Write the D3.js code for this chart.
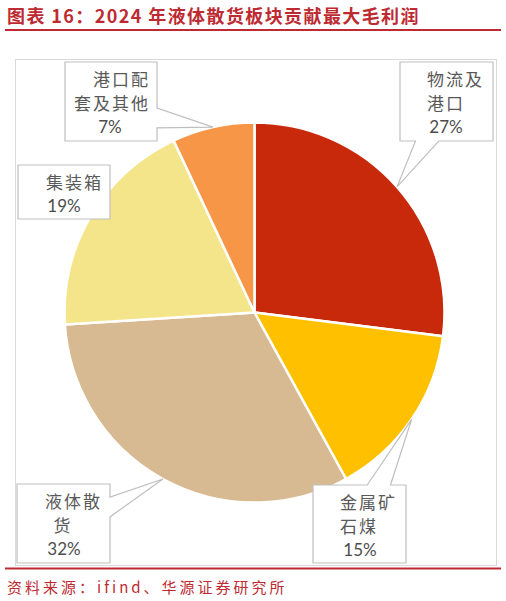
<!DOCTYPE html>
<html>
<head>
<meta charset="utf-8">
<script src="https://cdn.jsdelivr.net/npm/d3@7"></script>
<style>
  body { margin: 0; background: #fff; }
  svg { display: block; }
</style>
</head>
<body>
<svg id="chart" width="506" height="601"></svg>
<script>
// data, clockwise from 12 o'clock
const categories = ["物流及港口", "金属矿石煤", "液体散货", "集装箱", "港口配套及其他"];
const values = [27, 15, 32, 19, 7];
const labelLines = [["物流及", "港口"], ["金属矿", "石煤"], ["液体散", "货"], ["集装箱"], ["港口配", "套及其他"]];
const colors = ["#C8290A", "#FFC000", "#D8BA92", "#F5E58A", "#F79646"];

const red = "#BE2A32";
const svg = d3.select("#chart");

// title + rules
svg.append("text")
  .attr("x", 7).attr("y", 23)
  .attr("fill", red)
  .style("font", "bold 18px 'Noto Sans CJK SC', sans-serif")
  .style("letter-spacing", "1.4px")
  .text("图表 16：2024 年液体散货板块贡献最大毛利润");
svg.append("line").attr("x1", 5).attr("x2", 501).attr("y1", 30).attr("y2", 30)
  .attr("stroke", red).attr("stroke-width", 2);

svg.append("line").attr("x1", 5).attr("x2", 501).attr("y1", 568.5).attr("y2", 568.5)
  .attr("stroke", red).attr("stroke-width", 2);
svg.append("text")
  .attr("x", 7).attr("y", 593)
  .attr("fill", red)
  .style("font", "15px 'Noto Sans CJK SC', sans-serif")
  .style("letter-spacing", "3px")
  .text("资料来源：ifind、华源证券研究所");

// chart frame
svg.append("rect")
  .attr("x", 15.5).attr("y", 59.5).attr("width", 481).attr("height", 506)
  .attr("fill", "none").attr("stroke", "#D9D9D9");

// pie
const cx = 254.5, cy = 312.5, r = 190;
const pie = d3.pie().sort(null).value(d => d);
const arcData = pie(values);
const arcGen = d3.arc().innerRadius(0).outerRadius(r);
const edgeArc = d3.arc().innerRadius(r).outerRadius(r);

const g = svg.append("g").attr("transform", `translate(${cx},${cy})`);
g.selectAll("path")
  .data(arcData)
  .join("path")
  .attr("d", arcGen)
  .attr("fill", (d, i) => colors[i])
  .attr("stroke", "#fff")
  .attr("stroke-width", 2.5)
  .attr("stroke-linejoin", "round");

// callout boxes (Excel wedgeRectCallout style)
const boxes = [
  { x: 400, y: 62, w: 93, h: 79, tx: [["start", 27], ["start", 27], ["middle", 46]] },
  { x: 313, y: 485, w: 93, h: 78, tx: [["start", 27], ["start", 27], ["middle", 47]] },
  { x: 17, y: 484, w: 93, h: 79, tx: [["start", 28], ["middle", 46], ["middle", 47]] },
  { x: 18, y: 165, w: 92, h: 54, tx: [["start", 28], ["middle", 46]] },
  { x: 65, y: 62, w: 92, h: 79, tx: [["end", 85], ["end", 85], ["middle", 45]] }
];

function calloutPath(b, tip) {
  const x0 = b.x, x1 = b.x + b.w, y0 = b.y, y1 = b.y + b.h;
  const dx = tip[0] - (x0 + b.w / 2), dy = tip[1] - (y0 + b.h / 2);
  let pts;
  const inside = tip[0] > x0 && tip[0] < x1 && tip[1] > y0 && tip[1] < y1;
  if (inside) {
    pts = [[x0, y0], [x1, y0], [x1, y1], [x0, y1]];
  } else if (Math.abs(dy) * b.w > Math.abs(dx) * b.h) {
    const f = dx < 0 ? [2 / 12, 5 / 12] : [7 / 12, 10 / 12];
    const a = x0 + b.w * f[0], c = x0 + b.w * f[1];
    pts = dy < 0
      ? [[x0, y0], [a, y0], tip, [c, y0], [x1, y0], [x1, y1], [x0, y1]]
      : [[x0, y0], [x1, y0], [x1, y1], [c, y1], tip, [a, y1], [x0, y1]];
  } else {
    const f = dy < 0 ? [2 / 12, 5 / 12] : [7 / 12, 10 / 12];
    const a = y0 + b.h * f[0], c = y0 + b.h * f[1];
    pts = dx > 0
      ? [[x0, y0], [x1, y0], [x1, a], tip, [x1, c], [x1, y1], [x0, y1]]
      : [[x0, y0], [x1, y0], [x1, y1], [x0, y1], [x0, c], tip, [x0, a]];
  }
  return "M" + pts.map(p => p.join(",")).join("L") + "Z";
}

arcData.forEach((d, i) => {
  const b = boxes[i];
  const c = edgeArc.centroid(d);
  const tip = [c[0] + cx, c[1] + cy];
  svg.append("path")
    .attr("d", calloutPath(b, tip))
    .attr("fill", "#fff")
    .attr("stroke", "#BFBFBF")
    .attr("stroke-width", 1.2);

  const lines = labelLines[i].concat([values[i] + "%"]);
  lines.forEach((t, j) => {
    const isPct = j === lines.length - 1;
    svg.append("text")
      .attr("x", b.x + b.tx[j][1])
      .attr("y", b.y + 16 + j * 24)
      .attr("text-anchor", b.tx[j][0])
      .attr("dominant-baseline", "central")
      .attr("fill", isPct ? "#4D4D4D" : "#595959")
      .style("font", isPct ? "17px Lato, 'Open Sans', sans-serif" : "17px 'Noto Sans CJK SC', sans-serif")
      .style("letter-spacing", isPct ? "0px" : "2px")
      .text(t);
  });
});
</script>
</body>
</html>
